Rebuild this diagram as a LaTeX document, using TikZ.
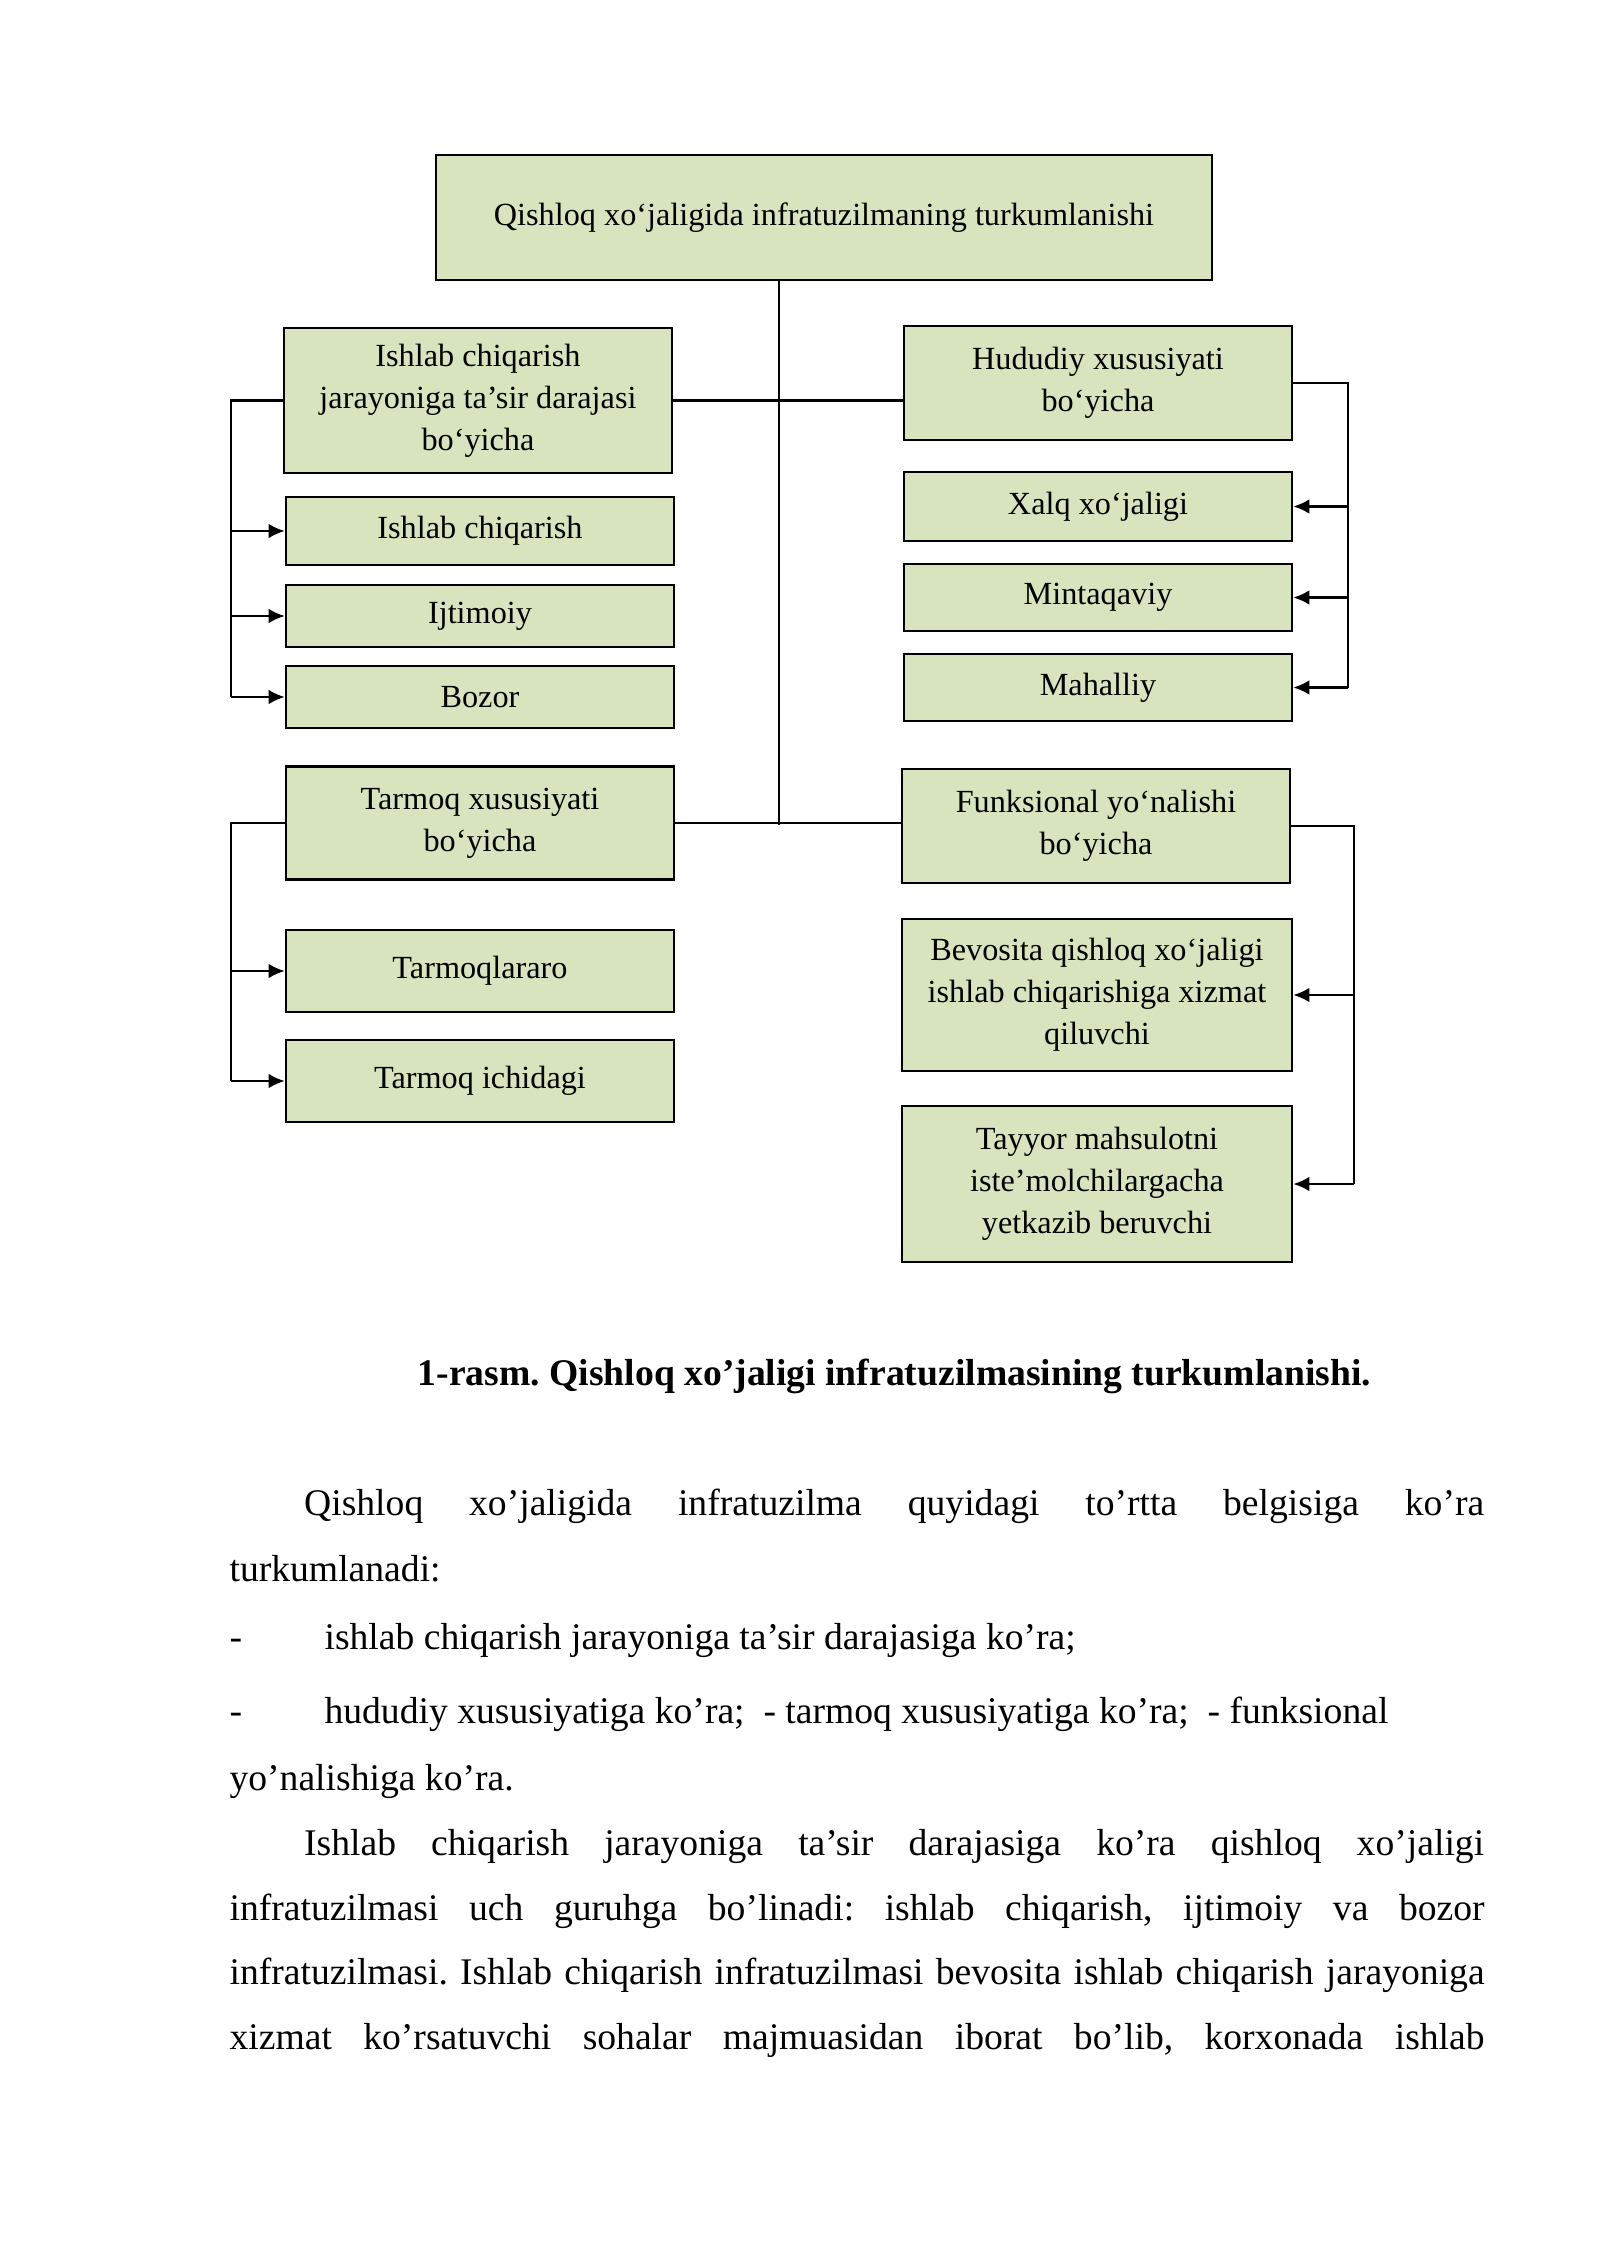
\documentclass[tikz,border=0pt]{standalone}
\usepackage{fontspec}
\setmainfont{Liberation Serif}
\usepackage{xcolor}
\usepackage{tikz}
\usetikzlibrary{arrows.meta}
\frenchspacing

\definecolor{boxgreen}{HTML}{D7E4BD}
\newdimen\px
\px=0.37205pt

\tikzset{
    box/.style = {draw, line width = 1pt, fill = boxgreen, align = center,
        inner sep = 0pt, font = \fontsize{12}{15.6}\selectfont},
    link/.style = {line width = 0.8pt},
    arr/.style = {line width = 0.8pt, -{Latex[length = 6pt, width = 5.5pt]}},
    line/.style = {anchor = base west, inner sep = 0pt, font = \fontsize{14}{17}\selectfont}
}

\begin{document}
\begin{tikzpicture}[x = 0.37205pt, y = -0.37205pt]
        \useasboundingbox (0, 0) rectangle (1600, 2262);

        % head
        \node[box, minimum width = 776\px, minimum height = 125\px] (top) at (824, 217.5)
            {Qishloq xo‘jaligida infratuzilmaning turkumlanishi};

        % left column
        \node[box, minimum width = 388\px, minimum height = 145\px] (tasir) at (478, 400.5)
            {Ishlab chiqarish\\jarayoniga ta’sir darajasi\\bo‘yicha};
        \node[box, minimum width = 388\px, minimum height = 68\px] (ishlab) at (480, 531) {Ishlab chiqarish};
        \node[box, minimum width = 388\px, minimum height = 62\px] (ijtimoiy) at (480, 616) {Ijtimoiy};
        \node[box, minimum width = 388\px, minimum height = 62\px] (bozor) at (480, 697) {Bozor};
        \node[box, minimum width = 388\px, minimum height = 113\px] (tarmoq) at (480, 823)
            {Tarmoq xususiyati\\bo‘yicha};
        \node[box, minimum width = 388\px, minimum height = 82\px] (tararo) at (480, 971) {Tarmoqlararo};
        \node[box, minimum width = 388\px, minimum height = 82\px] (tichi) at (480, 1081) {Tarmoq ichidagi};

        % right column
        \node[box, minimum width = 388\px, minimum height = 114\px] (hudud) at (1098, 383)
            {Hududiy xususiyati\\bo‘yicha};
        \node[box, minimum width = 388\px, minimum height = 69\px] (xalq) at (1098, 506.5) {Xalq xo‘jaligi};
        \node[box, minimum width = 388\px, minimum height = 67\px] (mintaqa) at (1098, 597.5) {Mintaqaviy};
        \node[box, minimum width = 388\px, minimum height = 67\px] (mahal) at (1098, 687.5) {Mahalliy};
        \node[box, minimum width = 388\px, minimum height = 114\px] (funk) at (1096, 826)
            {Funksional yo‘nalishi\\bo‘yicha};
        \node[box, minimum width = 390\px, minimum height = 152\px] (bevos) at (1097, 995)
            {Bevosita qishloq xo‘jaligi\\ishlab chiqarishiga xizmat\\qiluvchi};
        \node[box, minimum width = 390\px, minimum height = 156\px] (tayyor) at (1097, 1184)
            {Tayyor mahsulotni\\iste’molchilargacha\\yetkazib beruvchi};

        \coordinate (trunk) at (779, 825);
        \coordinate (lrail) at (231, 0);
        \coordinate (hrail) at (1348, 0);
        \coordinate (frail) at (1354, 0);

        \draw[line width = 0.6pt] (top.south -| trunk) -- (trunk);
        \draw[link] (tasir.east) -- (tasir.east -| hudud.west);
        \draw[link] (tarmoq.east) -- (tarmoq.east -| funk.west);

        \draw[link] (tasir.west) -- (tasir.west -| lrail) -- (bozor.west -| lrail);
        \foreach \n in {ishlab, ijtimoiy, bozor}
            \draw[arr] (\n.west -| lrail) -- (\n.west);
        \draw[link] (tarmoq.west) -- (tarmoq.west -| lrail) -- (tichi.west -| lrail);
        \foreach \n in {tararo, tichi}
            \draw[arr] (\n.west -| lrail) -- (\n.west);

        \draw[link] (hudud.east) -- (hudud.east -| hrail) -- (mahal.east -| hrail);
        \foreach \n in {xalq, mintaqa, mahal}
            \draw[arr] (\n.east -| hrail) -- (\n.east);
        \draw[link] (funk.east) -- (funk.east -| frail) -- (tayyor.east -| frail);
        \foreach \n in {bevos, tayyor}
            \draw[arr] (\n.east -| frail) -- (\n.east);

        % caption and text
        \node[anchor = base, inner sep = 0pt, font = \fontsize{14}{17}\selectfont\bfseries] (caption) at (894.5, 1385)
            {1-rasm. Qishloq xo’jaligi infratuzilmasining turkumlanishi.};

        \node[line] (l1) at (303.6, 1515)
            {\makebox[1180\px][s]{Qishloq xo’jaligida infratuzilma quyidagi to’rtta belgisiga ko’ra}};
        \node[line] (l2) at (229, 1581) {turkumlanadi:};
        \node[line] (d1) at (229, 1649) {-};
        \node[line] (l3) at (324, 1649) {ishlab chiqarish jarayoniga ta’sir darajasiga ko’ra;};
        \node[line] (d2) at (229, 1723) {-};
        \node[line] (l4) at (324, 1723)
            {hududiy xususiyatiga ko’ra;\ \ - tarmoq xususiyatiga ko’ra;\ \ - funksional};
        \node[line] (l5) at (229, 1790) {yo’nalishiga ko’ra.};
        \node[line] (l6) at (303.6, 1855)
            {\makebox[1180\px][s]{Ishlab chiqarish jarayoniga ta’sir darajasiga ko’ra qishloq xo’jaligi}};
        \node[line] (l7) at (229, 1920)
            {\makebox[1255\px][s]{infratuzilmasi uch guruhga bo’linadi: ishlab chiqarish, ijtimoiy va bozor}};
        \node[line] (l8) at (229, 1984)
            {\makebox[1255\px][s]{infratuzilmasi. Ishlab chiqarish infratuzilmasi bevosita ishlab chiqarish jarayoniga}};
        \node[line] (l9) at (229, 2049)
            {\makebox[1255\px][s]{xizmat ko’rsatuvchi sohalar majmuasidan iborat bo’lib, korxonada ishlab}};
    \end{tikzpicture}
\end{document}
